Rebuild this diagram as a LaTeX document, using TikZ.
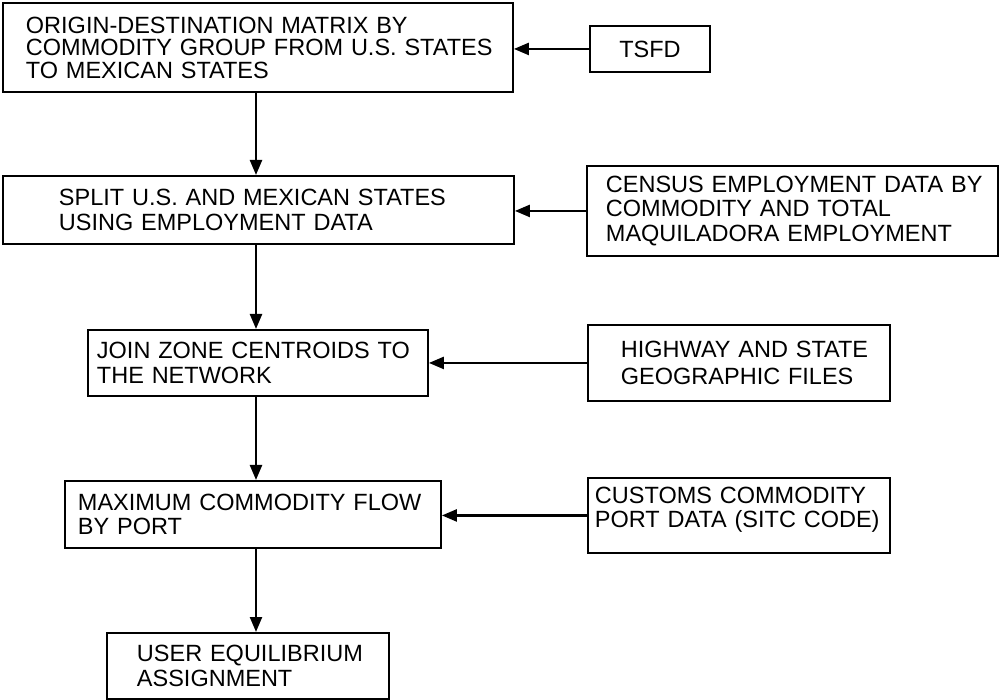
\documentclass[tikz,border=0pt]{standalone}
\usepackage{fontspec}
\setmainfont{Liberation Sans}
\usetikzlibrary{arrows.meta}

\begin{document}
\begin{tikzpicture}[
  x=1pt, y=-1pt,
  box/.style   = {draw, line width=1.9pt, anchor=north west, inner sep=0pt,
                  align=left, font=\fontsize{23.5}{24.5}\selectfont},
  lpad/.style  = {execute at begin node={\leftskip=#1\relax\rightskip=-60pt plus 1fil\relax}},
  arrow/.style = {-{Triangle[length=15pt, width=12pt]}, line width=2.4pt}
]
  \useasboundingbox (0,0) rectangle (999,700);

  % main column
  \node[box, text width=510pt, minimum height=89pt, lpad=23pt] (od) at (2,2)
    {ORIGIN-DESTINATION MATRIX BY\\[-2pt]COMMODITY GROUP FROM U.S. STATES\\[-2pt]TO MEXICAN STATES};
  \node[box, text width=511pt, minimum height=68pt, lpad=56pt] (split) at (2,175)
    {SPLIT U.S. AND MEXICAN STATES\\USING EMPLOYMENT DATA};
  \node[box, text width=340pt, minimum height=66pt, lpad=9pt] (join) at (87,329)
    {JOIN ZONE CENTROIDS TO\\THE NETWORK};
  \node[box, text width=376pt, minimum height=67pt, lpad=13pt] (maxflow) at (64,480)
    {MAXIMUM COMMODITY FLOW\\BY PORT};
  \node[box, text width=282pt, minimum height=66pt, lpad=30pt] (ue) at (106,632)
    {USER EQUILIBRIUM\\ASSIGNMENT};

  % data sources
  \node[box, align=center, minimum width=120pt, minimum height=46pt] (tsfd) at (589,25) {TSFD};
  \node[box, text width=411pt, minimum height=90pt, lpad=19pt] (census) at (586,165)
    {CENSUS EMPLOYMENT DATA BY\\COMMODITY AND TOTAL\\MAQUILADORA EMPLOYMENT};
  \node[box, text width=302pt, minimum height=76pt, lpad=33pt] (highway) at (587,324)
    {HIGHWAY AND STATE\\[3pt]GEOGRAPHIC FILES};
  \node[box, text width=302pt, minimum height=75pt, lpad=7pt] (customs) at (587,477)
    {CUSTOMS COMMODITY\\PORT DATA (SITC CODE)\\[-8pt]\mbox{}};

  \coordinate (spine) at (256,0);
  \foreach \a/\b in {od/split,split/join,join/maxflow,maxflow/ue}
    \draw[arrow] (\a.south -| spine) -- (\b.north -| spine);
  \foreach \a/\b in {tsfd/od,census/split,highway/join,customs/maxflow}
    \draw[arrow] (\a.west) -- (\a.west -| \b.east);
\end{tikzpicture}
\end{document}
